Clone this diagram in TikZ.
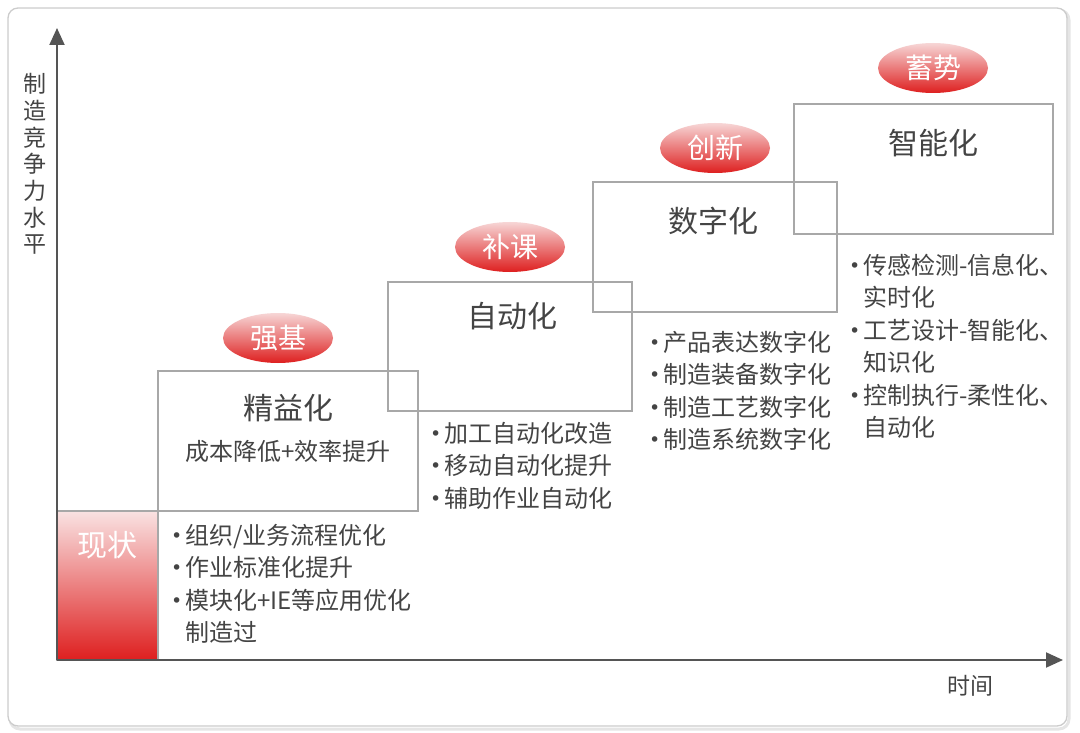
\documentclass[tikz,border=0pt]{standalone}
\usepackage{fontspec}
\setmainfont{Noto Sans CJK SC}
\newfontfamily\dotfont{DejaVu Sans}
\usepackage{xcolor}
\usetikzlibrary{arrows.meta,positioning,shapes.geometric}
\definecolor{txtgray}{HTML}{444444}
\definecolor{boxgray}{HTML}{A8A8A8}
\definecolor{axisgray}{HTML}{555555}
\definecolor{redtop}{HTML}{F7D6D6}
\definecolor{redbot}{HTML}{DE1F1F}
\newcommand{\bl}{\makebox[14pt][l]{\raisebox{2pt}{\dotfont\fontsize{19}{19}\selectfont•}}}
\newcommand{\ind}{\hspace*{14pt}}

\begin{document}
\begin{tikzpicture}[x=1pt,y=-1pt,
    stage/.style={draw=boxgray,line width=1.1pt,inner sep=0},
    title/.style={font=\fontsize{30}{36}\selectfont,text=txtgray,inner sep=0},
    tag/.style={ellipse,minimum width=110pt,minimum height=50pt,inner sep=0,
      top color=redtop,bottom color=redbot,text=white,font=\fontsize{28}{32}\selectfont},
    items/.style={align=left,anchor=base west,inner sep=0,text=txtgray,
      font=\fontsize{24}{32.5}\selectfont},
    axis/.style={draw=axisgray,line width=2pt,-{Triangle[length=17pt,width=15pt]}}]
    \useasboundingbox (0,0) rectangle (1080,733);
    % frame
    \draw[gray!20,line width=3pt,rounded corners=10pt] (10,10) rectangle (1069,729);
    \draw[gray!40,fill=white,line width=1.3pt,rounded corners=10pt] (8,8) rectangle (1067,726);

    % current state
    \node[stage,minimum width=101pt,minimum height=149pt,top color=redtop!70,bottom color=redbot]
      (now) at (107.5,585.5) {};
    \node[text=white,font=\fontsize{30}{36}\selectfont,inner sep=0] (nowtxt) at (107,545) {现状};

    % stages
    \node[stage,minimum width=260pt,minimum height=140pt] (jy) at (288,441) {};
    \node[stage,minimum width=244pt,minimum height=129pt] (zd) at (510,346.5) {};
    \node[stage,minimum width=244pt,minimum height=130pt] (sz) at (715,247) {};
    \node[stage,minimum width=259pt,minimum height=130pt] (zn) at (923.5,169) {};

    \node[title] (jyt) at (288,408) {精益化};
    \node[text=txtgray,font=\fontsize{24}{30}\selectfont,inner sep=0] (jys) at (288,451) {成本降低+效率提升};
    \node[title] (zdt) at (512,316) {自动化};
    \node[title] (szt) at (713,221) {数字化};
    \node[title] (znt) at (933,143) {智能化};

    \node[tag] (qj) at (278,338) {强基};
    \node[tag] (bk) at (510,247) {补课};
    \node[tag] (cx) at (715,148) {创新};
    \node[tag] (xs) at (933,68) {蓄势};

    % item lists (anchored at the last baseline)
    \node[items] (l0) at (171,641.5) {\bl 组织/业务流程优化\\\bl 作业标准化提升\\\bl 模块化+IE等应用优化\\\ind 制造过};
    \node[items] (l1) at (430,507) {\bl 加工自动化改造\\\bl 移动自动化提升\\\bl 辅助作业自动化};
    \node[items] (l2) at (649,448.5) {\bl 产品表达数字化\\\bl 制造装备数字化\\\bl 制造工艺数字化\\\bl 制造系统数字化};
    \node[items] (l3) at (849,436.5) {\bl 传感检测-信息化、\\\ind 实时化\\\bl 工艺设计-智能化、\\\ind 知识化\\\bl 控制执行-柔性化、\\\ind 自动化};

    % axes
    \coordinate (O) at (57,660);
    \coordinate (ytip) at (57,28);
    \coordinate (xtip) at (1063,660);
    \draw[axis] (O) -- (ytip);
    \draw[axis] (O) -- (xtip);
    \node[align=center,text=txtgray,font=\fontsize{23}{26.7}\selectfont,inner sep=0] (ylab) at (35,164)
      {制\\造\\竞\\争\\力\\水\\平};
    \node[text=txtgray,font=\fontsize{23}{28}\selectfont,inner sep=0] (xlab) at (970,686) {时间};
\end{tikzpicture}
\end{document}
